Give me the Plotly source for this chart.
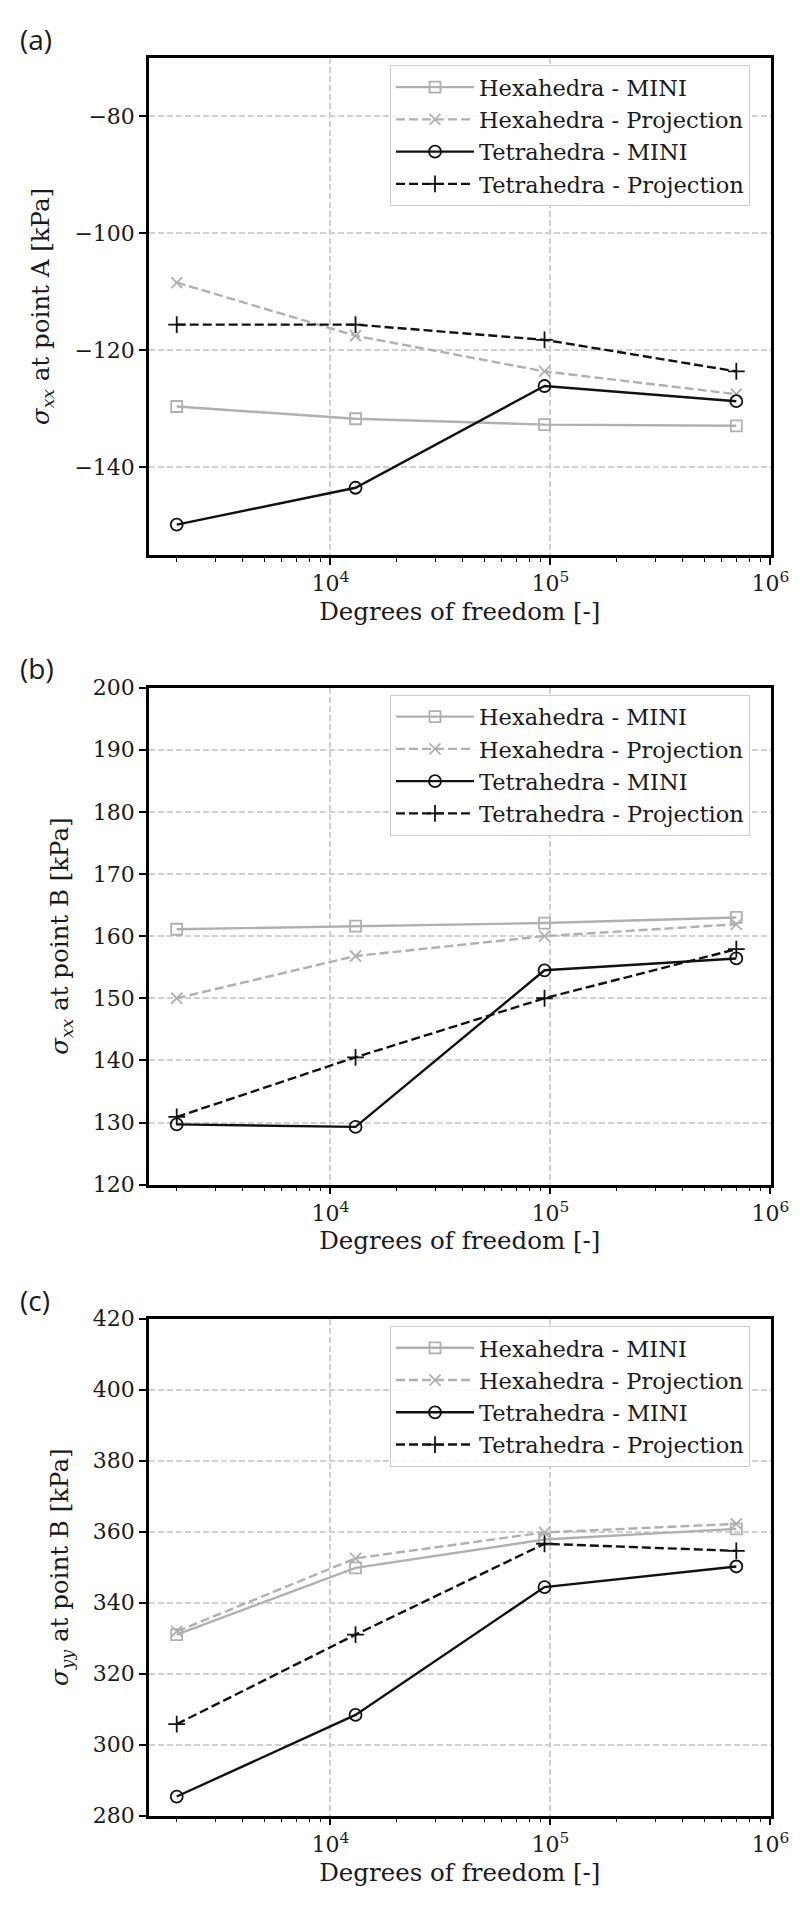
import plotly.graph_objects as go

# ---------------- data ----------------
dof = [2000, 13000, 94000, 700000]

a_hex_mini = [-129.6, -131.7, -132.7, -132.9]
a_hex_proj = [-108.4, -117.5, -123.6, -127.5]
a_tet_mini = [-149.8, -143.5, -126.1, -128.7]
a_tet_proj = [-115.6, -115.6, -118.2, -123.6]

b_hex_mini = [161.1, 161.6, 162.1, 163.0]
b_hex_proj = [150.0, 156.8, 160.0, 161.9]
b_tet_mini = [129.7, 129.3, 154.5, 156.4]
b_tet_proj = [130.9, 140.5, 150.0, 157.9]

c_hex_mini = [331.0, 349.8, 357.8, 360.8]
c_hex_proj = [331.9, 352.5, 359.8, 362.2]
c_tet_mini = [285.4, 308.4, 344.4, 350.2]
c_tet_proj = [305.8, 331.0, 356.6, 354.6]

series_names = ["Hexahedra - MINI", "Hexahedra - Projection",
                "Tetrahedra - MINI", "Tetrahedra - Projection"]
panel_labels = ["(a)", "(b)", "(c)"]
y_titles = ["<i>σ</i><sub><i>xx</i></sub> at point A [kPa]",
            "<i>σ</i><sub><i>xx</i></sub> at point B [kPa]",
            "<i>σ</i><sub><i>yy</i></sub> at point B [kPa]"]
x_title = "Degrees of freedom [-]"
y_ranges = [[-155, -70], [120, 200], [280, 420]]
y_ticks = [[-140, -120, -100, -80],
           [120, 130, 140, 150, 160, 170, 180, 190, 200],
           [280, 300, 320, 340, 360, 380, 400, 420]]
x_major = [1e4, 1e5, 1e6]
x_major_text = ["10<sup>4</sup>", "10<sup>5</sup>", "10<sup>6</sup>"]
x_minor = [2000, 3000, 4000, 5000, 6000, 7000, 8000, 9000,
           20000, 30000, 40000, 50000, 60000, 70000, 80000, 90000,
           200000, 300000, 400000, 500000, 600000, 700000, 800000, 900000]

panels = [
    [a_hex_mini, a_hex_proj, a_tet_mini, a_tet_proj],
    [b_hex_mini, b_hex_proj, b_tet_mini, b_tet_proj],
    [c_hex_mini, c_hex_proj, c_tet_mini, c_tet_proj],
]

# ---------------- styles ----------------
GRAY = "#b0b0b0"
BLACK = "#111111"
DASH = "9px,4px"
styles = [
    dict(color=GRAY, dash="solid", symbol="square-open", size=11),
    dict(color=GRAY, dash=DASH, symbol="x-thin-open", size=11),
    dict(color=BLACK, dash="solid", symbol="circle-open", size=12),
    dict(color=BLACK, dash=DASH, symbol="cross-thin-open", size=12),
]

W, H = 800, 1905
x_dom = [141 / W, 762.5 / W]
tops = [50, 679.5, 1310.7]
bottoms = [547, 1176.7, 1807.7]

SERIF = "DejaVu Serif"
FS_TICK = 22
FS_TITLE = 24.5
FS_LEG = 22.5
TXT = "#1a1a1a"

fig = go.Figure()

for p, data in enumerate(panels):
    xa = "x" if p == 0 else f"x{p+1}"
    ya = "y" if p == 0 else f"y{p+1}"
    lg = "legend" if p == 0 else f"legend{p+1}"
    for s, vals in enumerate(data):
        st = styles[s]
        fig.add_trace(go.Scatter(
            x=dof, y=vals, name=series_names[s], mode="lines+markers",
            xaxis=xa, yaxis=ya, legend=lg,
            line=dict(color=st["color"], width=2.4, dash=st["dash"]),
            marker=dict(symbol=st["symbol"], size=st["size"], color=st["color"],
                        line=dict(width=1.8, color=st["color"])),
        ))

layout = dict(
    width=W, height=H,
    margin=dict(l=0, r=0, t=0, b=0),
    paper_bgcolor="white", plot_bgcolor="white",
    showlegend=True,
    font=dict(family=SERIF, size=FS_TICK, color=TXT),
)

annotations = []
for p in range(3):
    sfx = "" if p == 0 else str(p + 1)
    y_dom = [1 - bottoms[p] / H, 1 - tops[p] / H]
    layout["xaxis" + sfx] = dict(
        type="log", domain=x_dom, anchor="y" + sfx,
        range=[3.175, 6.0005],
        tickvals=x_major, ticktext=x_major_text,
        ticks="outside", ticklen=7, tickwidth=1.5, tickcolor="black",
        minor=dict(ticks="outside", ticklen=4, tickwidth=1.2, tickcolor="black",
                   tickvals=x_minor, showgrid=False),
        showline=True, mirror=True, linecolor="black", linewidth=2.5,
        showgrid=True, gridcolor="#d0d0d0", gridwidth=1.5, griddash="6px,3px",
        zeroline=False, automargin=False,
        tickfont=dict(family=SERIF, size=FS_TICK, color=TXT),
        title=dict(text=x_title, font=dict(family=SERIF, size=FS_TITLE, color=TXT),
                   standoff=8),
    )
    layout["yaxis" + sfx] = dict(
        domain=y_dom, anchor="x" + sfx,
        range=y_ranges[p], tickvals=y_ticks[p],
        ticks="outside", ticklen=7, tickwidth=1.5, tickcolor="black",
        showline=True, mirror=True, linecolor="black", linewidth=2.5,
        showgrid=True, gridcolor="#d0d0d0", gridwidth=1.5, griddash="6px,3px",
        zeroline=False, automargin=False,
        tickfont=dict(family=SERIF, size=FS_TICK, color=TXT),
        title=dict(text=y_titles[p], font=dict(family=SERIF, size=FS_TITLE, color=TXT),
                   standoff=18),
    )
    layout["legend" + sfx] = dict(
        x=742 / W, xanchor="right", xref="paper",
        y=1 - (tops[p] + 7) / H, yanchor="top", yref="paper",
        bgcolor="rgba(255,255,255,0.85)", bordercolor="#cccccc", borderwidth=1,
        font=dict(family=SERIF, size=FS_LEG, color=TXT),
        itemwidth=78, tracegroupgap=0, traceorder="normal",
    )
    annotations.append(dict(
        text=panel_labels[p], xref="paper", yref="paper",
        x=10 / W, y=1 - (tops[p] - 19) / H, xanchor="left", yanchor="middle",
        showarrow=False, font=dict(family="Open Sans", size=28, color=TXT),
    ))

layout["annotations"] = annotations
fig.update_layout(**layout)

fig.write_html("out.html")
